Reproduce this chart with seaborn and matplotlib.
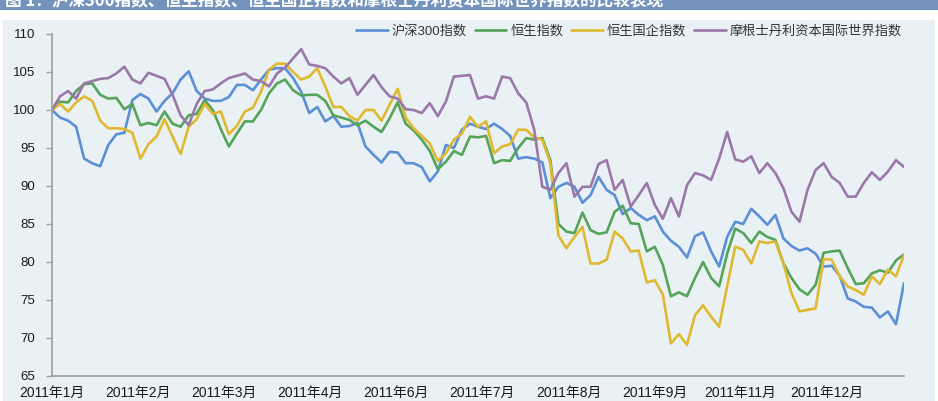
import numpy as np
import pandas as pd
import matplotlib
matplotlib.use("Agg")
import matplotlib.pyplot as plt
from matplotlib.patches import Rectangle
from matplotlib.lines import Line2D
import seaborn as sns

# ---------------- data ----------------
series_names = ["沪深300指数", "恒生指数", "恒生国企指数", "摩根士丹利资本国际世界指数"]

hs300 = [100, 99.0, 98.6, 97.8, 93.6, 93.0, 92.6, 95.4, 96.8, 97.0,
         101.3, 102.1, 101.5, 99.8, 101.2, 102.2, 104.0, 105.1, 102.5, 101.5,
         101.2, 101.2, 101.7, 103.3, 103.3, 102.6, 104.0, 105.3, 105.5, 105.5,
         104.2, 102.4, 99.6, 100.4, 98.5, 99.2, 97.8, 97.9, 98.3, 95.2,
         94.1, 93.1, 94.5, 94.4, 93.0, 93.0, 92.5, 90.6, 91.9, 95.4,
         95.0, 97.4, 98.2, 97.8, 97.5, 98.2, 97.5, 96.6, 93.6, 93.8,
         93.6, 93.1, 88.4, 89.9, 90.4, 89.9, 87.8, 88.8, 91.2, 89.5,
         88.8, 86.3, 87.1, 86.2, 85.5, 86.0, 84.0, 82.8, 82.0, 80.6,
         83.4, 83.9, 81.4, 79.4, 83.3, 85.3, 85.0, 87.0, 86.0, 84.9,
         86.2, 83.1, 82.1, 81.5, 81.8, 81.1, 79.4, 79.5, 78.2, 75.2,
         74.8, 74.1, 74.0, 72.7, 73.5, 71.8, 77.2]

hsi = [100, 101.1, 101.0, 102.5, 103.4, 103.5, 102.0, 101.5, 101.6, 100.1,
       100.8, 98.0, 98.3, 98.0, 99.8, 98.2, 97.8, 99.3, 99.5, 101.3,
       100.0, 97.5, 95.2, 96.9, 98.5, 98.5, 100.0, 102.2, 103.5, 104.0,
       102.6, 101.9, 102.0, 102.0, 101.2, 99.3, 99.0, 98.7, 98.0, 98.6,
       97.8, 97.1, 98.9, 101.0, 98.2, 97.3, 96.1, 94.6, 92.2, 93.2,
       94.6, 94.1, 96.5, 96.4, 96.6, 93.0, 93.4, 93.3, 95.0, 96.3,
       96.1, 96.3, 93.4, 85.0, 84.0, 83.8, 86.5, 84.2, 83.7, 83.9,
       86.6, 87.4, 85.1, 85.0, 81.4, 82.0, 79.6, 75.5, 76.0, 75.5,
       77.9, 80.0, 77.9, 76.8, 81.1, 84.4, 83.8, 82.5, 84.0, 83.3,
       82.9, 79.8, 77.9, 76.4, 75.7, 77.0, 81.2, 81.4, 81.5, 79.2,
       77.1, 77.2, 78.5, 78.9, 78.6, 80.2, 81.0]

hscei = [100, 100.8, 99.8, 101.0, 101.8, 101.2, 98.6, 97.6, 97.6, 97.5,
         97.0, 93.6, 95.5, 96.5, 98.8, 96.5, 94.2, 97.8, 98.8, 100.8,
         99.5, 99.8, 96.8, 97.9, 99.8, 100.3, 102.4, 105.3, 106.1, 106.1,
         105.0, 104.0, 104.4, 105.5, 103.1, 100.4, 100.4, 99.2, 98.6, 100.0,
         100.0, 98.6, 100.7, 102.8, 99.0, 97.6, 96.6, 95.6, 93.3, 94.3,
         96.1, 96.9, 99.1, 97.8, 98.5, 94.3, 95.2, 95.5, 97.4, 97.4,
         96.4, 96.1, 93.0, 83.5, 81.8, 83.3, 84.6, 79.8, 79.8, 80.3,
         84.0, 83.1, 81.4, 81.5, 77.3, 77.6, 75.7, 69.3, 70.5, 69.1,
         73.0, 74.3, 72.8, 71.5, 76.8, 82.0, 81.6, 79.8, 82.7, 82.5,
         82.7, 79.8, 75.9, 73.5, 73.7, 73.9, 80.4, 80.3, 78.1, 76.8,
         76.3, 75.7, 78.1, 77.1, 79.0, 78.1, 80.9]

msci = [100, 101.8, 102.5, 101.5, 103.5, 103.8, 104.1, 104.2, 104.8, 105.7,
        104.0, 103.5, 104.9, 104.5, 104.1, 102.0, 99.3, 98.0, 100.8, 102.5,
        102.7, 103.5, 104.2, 104.5, 104.8, 104.0, 103.8, 103.1, 104.8, 105.6,
        106.8, 108.0, 106.0, 105.8, 105.5, 104.4, 103.5, 104.2, 102.0, 103.3,
        104.6, 103.0, 101.8, 101.5, 100.1, 100.0, 99.6, 100.9, 99.2, 101.1,
        104.4, 104.5, 104.6, 101.5, 101.8, 101.5, 104.4, 104.2, 102.2, 101.0,
        97.4, 89.9, 89.5, 91.7, 93.0, 88.6, 89.9, 89.9, 92.9, 93.4,
        89.5, 90.8, 87.3, 88.8, 90.4, 87.5, 85.7, 88.4, 86.0, 90.1,
        91.7, 91.4, 90.8, 93.6, 97.1, 93.5, 93.2, 93.9, 91.7, 93.0,
        91.7, 89.7, 86.6, 85.3, 89.5, 92.1, 93.0, 91.2, 90.4, 88.6,
        88.6, 90.4, 91.8, 90.8, 91.9, 93.4, 92.5]

month_labels = ["2011年1月", "2011年2月", "2011年3月", "2011年4月", "2011年6月",
                "2011年7月", "2011年8月", "2011年9月", "2011年11月", "2011年12月"]

title_text = "图 1：沪深300指数、恒生指数、恒生国企指数和摩根士丹利资本国际世界指数的比较表现"

# ---------------- style ----------------
colors = ["#5b8fd6", "#55a45a", "#e0b930", "#9a78a8"]
bg = "#eaf1f5"
band = "#7393bd"

sns.set_style("white")
plt.rcParams["font.family"] = ["Liberation Sans", "Noto Sans CJK SC", "DejaVu Sans"]

n = len(hs300)
idx = np.arange(n)
df = pd.concat([
    pd.DataFrame({"idx": idx, "value": vals, "series": name})
    for name, vals in zip(series_names, [hs300, hsi, hscei, msci])
], ignore_index=True)

W, H = 938, 401
fig = plt.figure(figsize=(W / 100, H / 100), dpi=100, facecolor="white")

# background panels
fig.add_artist(Rectangle((0, 0), 1, 1 - 10 / H, transform=fig.transFigure,
                         facecolor="white", edgecolor="none", zorder=-20))
fig.add_artist(Rectangle((3 / W, 0), 1 - 6 / W, 1 - 20 / H, transform=fig.transFigure,
                         facecolor=bg, edgecolor="none", zorder=-19))
fig.add_artist(Rectangle((0, 1 - 10 / H), 1, 10 / H, transform=fig.transFigure,
                         facecolor=band, edgecolor="none", zorder=-18))
fig.text(5 / W, 1 - 6.5 / H, title_text, color="white", fontsize=12,
         fontweight="bold", family=["Noto Sans CJK SC", "DejaVu Sans"],
         va="baseline", ha="left")

ax = fig.add_axes([52 / W, 1 - 376 / H, 852 / W, 342 / H])
ax.set_facecolor(bg)

sns.lineplot(data=df, x="idx", y="value", hue="series", hue_order=series_names,
             palette=colors, linewidth=1.9, ax=ax, legend=False)

ax.set_xlim(0, n - 1)
ax.set_ylim(65, 110)
ax.set_yticks(np.arange(65, 111, 5))
ax.set_xticks(np.arange(len(month_labels)) * 10.71)
ax.set_xticklabels(month_labels)
ax.set_xlabel("")
ax.set_ylabel("")

for s in ["top", "right"]:
    ax.spines[s].set_visible(False)
for s in ["left", "bottom"]:
    ax.spines[s].set_color("#a3a3a3")
    ax.spines[s].set_linewidth(1.3)

ax.tick_params(axis="y", length=4, width=1.0, color="#a3a3a3", pad=8,
               labelsize=9.5, labelcolor="#1a1a1a", direction="out", left=True)
ax.tick_params(axis="x", length=0, pad=7, labelsize=10, labelcolor="#1a1a1a")

handles = [Line2D([], [], color=c, lw=1.9) for c in colors]
fig.legend(handles, series_names, loc="center right",
           bbox_to_anchor=(902 / W, 1 - 31 / H), bbox_transform=fig.transFigure,
           ncol=4, frameon=False, fontsize=9.5, handlelength=2.4,
           handletextpad=0.3, columnspacing=0.6, borderpad=0, borderaxespad=0,
           labelcolor="#333333")

fig.savefig("out.png", dpi=100, facecolor="white")
